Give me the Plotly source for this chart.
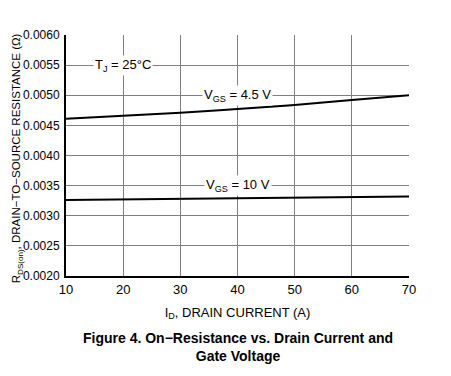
import plotly.graph_objects as go

drain_current = [10, 20, 30, 40, 50, 60, 70]
rds_vgs_4_5 = [0.00461, 0.00466, 0.00471, 0.00477, 0.00484, 0.00492, 0.00500]
rds_vgs_10 = [0.00326, 0.00327, 0.00328, 0.00329, 0.00330, 0.00331, 0.00332]
y_ticks = [0.0020, 0.0025, 0.0030, 0.0035, 0.0040, 0.0045, 0.0050, 0.0055, 0.0060]
x_ticks = [10, 20, 30, 40, 50, 60, 70]

FONT = "Liberation Sans, Arial, sans-serif"

fig = go.Figure()
fig.add_trace(go.Scatter(x=drain_current, y=rds_vgs_4_5, mode="lines",
                         line=dict(color="black", width=2, shape="spline"), showlegend=False))
fig.add_trace(go.Scatter(x=drain_current, y=rds_vgs_10, mode="lines",
                         line=dict(color="black", width=2), showlegend=False))

ann_style = dict(showarrow=False, bgcolor="white", font=dict(family=FONT, size=13, color="black"),
                 borderpad=1)
fig.add_annotation(x=20, y=0.0055, text="T<sub>J</sub> = 25°C", **ann_style)
fig.add_annotation(x=40, y=0.0050, text="V<sub>GS</sub> = 4.5 V", **ann_style)
fig.add_annotation(x=40, y=0.0035, text="V<sub>GS</sub> = 10 V", **ann_style)

fig.add_annotation(x=0.5, y=-0.215, xref="paper", yref="paper", showarrow=False,
                   text="<b>Figure 4. On\u2212Resistance vs. Drain Current and<br>Gate Voltage</b>",
                   font=dict(family=FONT, size=14, color="black"), align="center",
                   yanchor="top")

# y-axis title as rotated annotation
fig.add_annotation(x=-0.142, y=0.49, xref="paper", yref="paper", showarrow=False, textangle=-90,
                   text="R<sub>DS(on)</sub>, DRAIN\u2212TO\u2212SOURCE RESISTANCE (\u03a9)",
                   font=dict(family=FONT, size=11.5, color="black"), xanchor="center", yanchor="middle")

fig.update_xaxes(range=[10, 70], tickvals=x_ticks, showgrid=True, gridcolor="#7f7f7f", gridwidth=1,
                 showline=True, linecolor="black", linewidth=2, mirror=False, zeroline=False,
                 ticks="", automargin=False, tickfont=dict(family=FONT, size=13, color="black"),
                 title=dict(text="I<sub>D</sub>, DRAIN CURRENT (A)", font=dict(family=FONT, size=13, color="black"),
                            standoff=12))
fig.update_yaxes(range=[0.0020, 0.0060], tickvals=y_ticks, tickformat=".4f", showgrid=True,
                 gridcolor="#7f7f7f", gridwidth=1, showline=True, linecolor="black", linewidth=2,
                 zeroline=False, ticks="", automargin=False, ticklabelstandoff=2,
                 tickfont=dict(family=FONT, size=12, color="black"))

fig.update_layout(width=451, height=376, margin=dict(l=58, r=50, t=27, b=108),
                  plot_bgcolor="white", paper_bgcolor="white")

fig.write_html("out.html")
